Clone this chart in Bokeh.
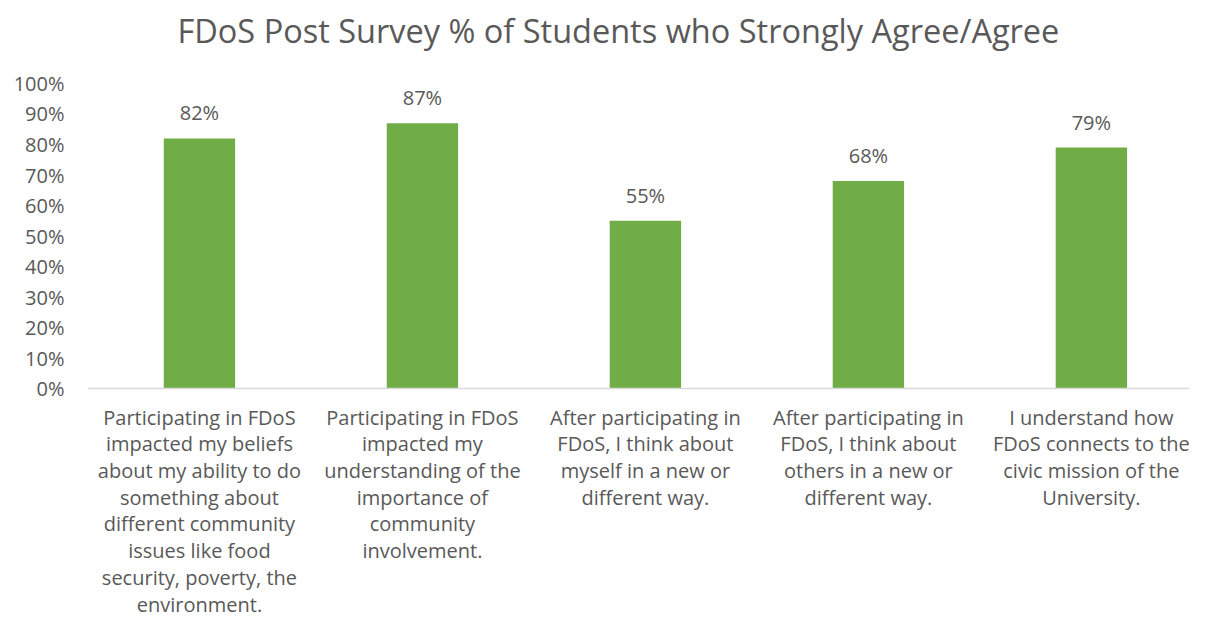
from bokeh.plotting import figure
from bokeh.models import ColumnDataSource, Range1d, FixedTicker, NumeralTickFormatter, Span
from bokeh.core.properties import value
from bokeh.embed import file_html
from bokeh.resources import INLINE

title = "FDoS Post Survey % of Students who Strongly Agree/Agree"
categories = [
    "Participating in FDoS\nimpacted my beliefs\nabout my ability to do\nsomething about\ndifferent community\nissues like food\nsecurity, poverty, the\nenvironment.",
    "Participating in FDoS\nimpacted my\nunderstanding of the\nimportance of\ncommunity\ninvolvement.",
    "After participating in\nFDoS, I think about\nmyself in a new or\ndifferent way.",
    "After participating in\nFDoS, I think about\nothers in a new or\ndifferent way.",
    "I understand how\nFDoS connects to the\ncivic mission of the\nUniversity.",
]
values = [0.82, 0.87, 0.55, 0.68, 0.79]
value_labels = ["82%", "87%", "55%", "68%", "79%"]
y_ticks = [0, 0.1, 0.2, 0.3, 0.4, 0.5, 0.6, 0.7, 0.8, 0.9, 1.0]

FONT = "Open Sans"
GRAY = "#595959"

src = ColumnDataSource(dict(
    x=list(range(len(categories))), cat=categories, top=values,
    lab=value_labels, base=[0] * len(values),
))

p = figure(
    x_range=Range1d(-0.502, 4.44),
    y_range=Range1d(-0.757, 1.272),
    width=1189, height=619,
    frame_width=1102, frame_height=619,
    min_border_left=87, min_border_right=0, min_border_bottom=0, min_border_top=0,
    output_backend="svg", toolbar_location=None,
)

p.outline_line_color = None
p.xgrid.visible = False
p.ygrid.visible = False
p.xaxis.visible = False

yax = p.yaxis[0]
yax.ticker = FixedTicker(ticks=y_ticks)
yax.formatter = NumeralTickFormatter(format="0%")
yax.axis_line_color = None
yax.major_tick_line_color = None
yax.minor_tick_line_color = None
yax.major_tick_out = 0
yax.major_tick_in = 0
yax.major_label_standoff = 23
yax.major_label_text_font = FONT
yax.major_label_text_font_size = "20px"
yax.major_label_text_color = GRAY

p.vbar(x="x", top="top", width=0.32, source=src, color="#70AD47", line_color=None)

p.add_layout(Span(location=0, dimension="width", line_color="#D9D9D9", line_width=1.5))

p.text(x="x", y="top", text="lab", source=src, text_align="center", text_baseline="bottom",
       y_offset=-12, text_font=value(FONT), text_font_size="20px", text_color=GRAY)

p.text(x="x", y="base", text="cat", source=src, text_align="center", text_baseline="top",
       y_offset=15, text_font=value(FONT), text_font_size="20px", text_color=GRAY,
       text_line_height=0.99)

# chart title, placed above the 100% line
p.text(x=[2], y=[1.0], text=[title], x_offset=-27, y_offset=-53,
       text_align="center", text_baseline="middle",
       text_font=value(FONT), text_font_size="32.5px", text_color=GRAY)

open("out.html", "w").write(file_html(p, INLINE))
